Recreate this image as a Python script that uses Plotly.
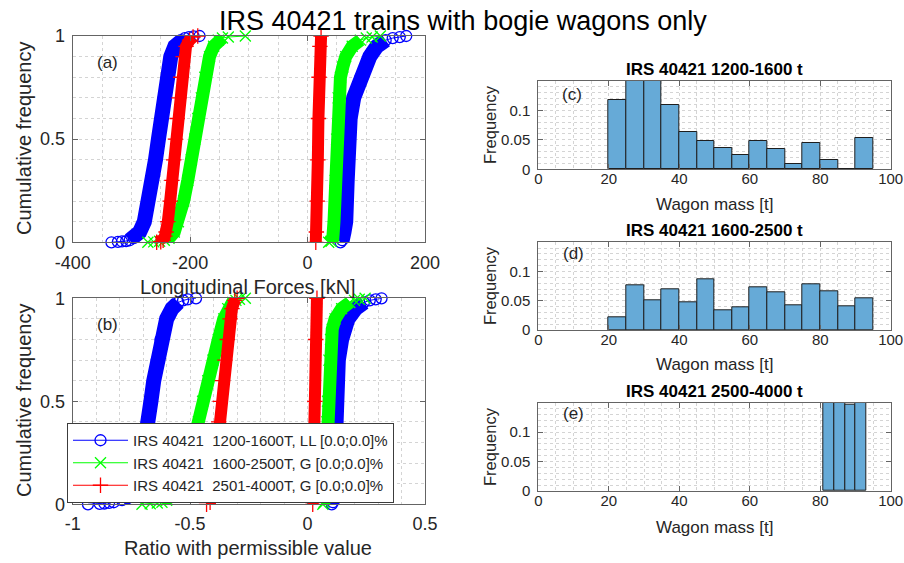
import numpy as np
import plotly.graph_objects as go

W, H = 904, 563

# ---------------- cumulative frequency curves ----------------
# (a) longitudinal forces [kN]; each train class has a compressive and a tensile branch
a_blue_neg_cf = [0, 0.002, 0.004, 0.006, 0.01, 0.02, 0.05, 0.1, 0.2, 0.3, 0.4, 0.5, 0.6, 0.7, 0.8, 0.9, 0.95, 0.98, 0.99, 0.995, 0.998, 1.0]
a_blue_neg_x = [-334, -323, -316, -309, -303, -296, -286, -278, -270, -264, -259, -254, -249, -245, -240, -233, -226, -216, -209, -202, -194, -184]
a_blue_pos_cf = [0, 0.01, 0.05, 0.1, 0.3, 0.5, 0.6, 0.7, 0.8, 0.9, 0.95, 0.98, 0.99, 0.995, 1.0]
a_blue_pos_x = [56, 59, 62, 65, 67.5, 69.5, 72.5, 78.5, 90, 106, 118, 133, 145, 157, 168]

a_green_neg_cf = [0, 0.002, 0.005, 0.01, 0.02, 0.05, 0.1, 0.2, 0.3, 0.4, 0.5, 0.6, 0.7, 0.8, 0.9, 0.95, 0.98, 0.99, 0.995, 1.0]
a_green_neg_x = [-272, -262, -252, -244, -236, -227, -220, -211, -204, -198, -192, -187, -181, -175, -167, -160, -152, -145, -135, -106]
a_green_pos_cf = [0, 0.005, 0.02, 0.1, 0.3, 0.5, 0.7, 0.8, 0.85, 0.9, 0.95, 0.98, 0.99, 0.995, 1.0]
a_green_pos_x = [36, 40, 43, 45, 47, 49.5, 52, 56, 60, 65, 76, 90, 100, 110, 124]

a_red_neg_cf = [0, 0.003, 0.01, 0.03, 0.05, 0.1, 0.2, 0.3, 0.4, 0.5, 0.6, 0.7, 0.8, 0.9, 0.95, 0.98, 0.995, 1.0]
a_red_neg_x = [-257, -250, -246, -243, -241, -238, -234, -231, -228, -225, -222, -219, -216, -212, -207, -201, -195, -187]
a_red_pos_cf = [0, 0.05, 0.2, 0.4, 0.6, 0.8, 0.95, 1.0]
a_red_pos_x = [14, 15, 16.5, 17.5, 18.5, 19.5, 21, 23]

# (b) ratio with permissible value
b_blue_neg_cf = [0, 0.002, 0.004, 0.007, 0.01, 0.02, 0.05, 0.1, 0.2, 0.3, 0.4, 0.5, 0.6, 0.7, 0.8, 0.9, 0.95, 0.98, 0.99, 0.995, 1.0]
b_blue_neg_x = [-0.935, -0.885, -0.865, -0.845, -0.825, -0.79, -0.75, -0.72, -0.703, -0.69, -0.678, -0.667, -0.655, -0.642, -0.626, -0.6, -0.577, -0.55, -0.53, -0.51, -0.475]
b_blue_pos_cf = [0, 0.01, 0.05, 0.1, 0.4, 0.5, 0.7, 0.8, 0.85, 0.9, 0.95, 0.98, 0.99, 0.995, 1.0]
b_blue_pos_x = [0.103, 0.108, 0.11, 0.112, 0.117, 0.12, 0.131, 0.145, 0.156, 0.172, 0.205, 0.24, 0.265, 0.29, 0.315]

b_green_neg_cf = [0, 0.003, 0.006, 0.01, 0.02, 0.05, 0.1, 0.2, 0.3, 0.4, 0.5, 0.6, 0.7, 0.8, 0.9, 0.95, 0.98, 0.99, 0.995, 1.0]
b_green_neg_x = [-0.705, -0.67, -0.64, -0.62, -0.6, -0.565, -0.54, -0.51, -0.485, -0.465, -0.447, -0.425, -0.403, -0.38, -0.357, -0.34, -0.32, -0.305, -0.29, -0.265]
b_green_pos_cf = [0, 0.01, 0.05, 0.2, 0.4, 0.5, 0.7, 0.8, 0.85, 0.9, 0.95, 0.98, 0.99, 0.995, 1.0]
b_green_pos_x = [0.065, 0.07, 0.074, 0.078, 0.082, 0.085, 0.091, 0.098, 0.105, 0.117, 0.145, 0.18, 0.2, 0.22, 0.245]

b_red_neg_cf = [0, 0.01, 0.05, 0.2, 0.4, 0.5, 0.6, 0.7, 0.8, 0.9, 0.95, 0.99, 1.0]
b_red_neg_x = [-0.43, -0.415, -0.405, -0.39, -0.378, -0.372, -0.362, -0.352, -0.342, -0.33, -0.322, -0.31, -0.30]
b_red_pos_cf = [0, 0.2, 0.5, 0.8, 1.0]
b_red_pos_x = [0.022, 0.027, 0.031, 0.035, 0.040]

series_names = [
    "IRS 40421  1200-1600T, LL [0.0;0.0]%",
    "IRS 40421  1600-2500T, G [0.0;0.0]%",
    "IRS 40421  2501-4000T, G [0.0;0.0]%",
]

# ---------------- wagon mass histograms ----------------
c_edges = [20, 25, 30, 35, 40, 45, 50, 55, 60, 65, 70, 75, 80, 85, 90, 95]
c_freq = [0.117, 0.20, 0.195, 0.110, 0.063, 0.048, 0.036, 0.025, 0.048, 0.034, 0.009, 0.044, 0.015, 0.0, 0.053]
d_edges = [20, 25, 30, 35, 40, 45, 50, 55, 60, 65, 70, 75, 80, 85, 90, 95]
d_freq = [0.021, 0.077, 0.050, 0.069, 0.047, 0.087, 0.033, 0.039, 0.073, 0.065, 0.042, 0.079, 0.066, 0.041, 0.055]
e_edges = [81, 84, 87, 90, 93]
e_freq = [0.28, 0.27, 0.147, 0.30]

hist_titles = ["IRS 40421 1200-1600 t", "IRS 40421 1600-2500 t", "IRS 40421 2500-4000 t"]

# ---------------- styling ----------------
FONT = "Liberation Sans, Arial, sans-serif"
TXT = "rgb(38,38,38)"
FRAME = "rgb(100,100,100)"
GRID = "rgb(212,212,212)"
BLUE, GREEN, RED = "rgb(0,0,255)", "rgb(0,255,0)", "rgb(255,0,0)"
BAND_WIDTH = {BLUE: 15, GREEN: 13, RED: 12}
BAR_FILL = "rgb(102,170,215)"
MSIZE = 11


def px_x(x):
    return x / W


def px_y(y):
    return 1 - y / H


fig = go.Figure()


def add_curve(xs, cfs, color, symbol, axis, band=(0.01, 0.99), name=None, legend=False):
    """Cumulative curve: markers at every point, solid band over the dense body."""
    xa, ya = axis
    xs = np.asarray(xs, dtype=float)
    cfs = np.asarray(cfs, dtype=float)
    core = (cfs >= band[0]) & (cfs <= band[1])
    fig.add_trace(go.Scatter(
        x=xs[core], y=cfs[core], mode="lines",
        line=dict(color=color, width=BAND_WIDTH[color]),
        xaxis=xa, yaxis=ya, showlegend=False, hoverinfo="skip", cliponaxis=False,
    ))
    fig.add_trace(go.Scatter(
        x=xs, y=cfs, mode="lines+markers", name=name,
        line=dict(color=color, width=1),
        marker=dict(symbol=symbol, size=MSIZE, color=color, line=dict(color=color, width=1.3)),
        xaxis=xa, yaxis=ya, showlegend=legend, cliponaxis=False,
    ))


FULL = (0.0, 1.0)

# panel (a)
add_curve(a_blue_neg_x, a_blue_neg_cf, BLUE, "circle-open", ("x", "y"), name=series_names[0], legend=True)
add_curve(a_blue_pos_x, a_blue_pos_cf, BLUE, "circle-open", ("x", "y"), band=(0.0, 0.98))
add_curve(a_green_neg_x, a_green_neg_cf, GREEN, "x-thin-open", ("x", "y"), name=series_names[1], legend=True)
add_curve(a_green_pos_x, a_green_pos_cf, GREEN, "x-thin-open", ("x", "y"), band=(0.0, 0.98))
add_curve(a_red_neg_x, a_red_neg_cf, RED, "cross-thin-open", ("x", "y"), band=(0.0, 0.995), name=series_names[2], legend=True)
add_curve(a_red_pos_x, a_red_pos_cf, RED, "cross-thin-open", ("x", "y"), band=FULL)

# panel (b)
add_curve(b_blue_neg_x, b_blue_neg_cf, BLUE, "circle-open", ("x2", "y2"), band=(0.02, 0.98))
add_curve(b_blue_pos_x, b_blue_pos_cf, BLUE, "circle-open", ("x2", "y2"), band=(0.0, 0.98))
add_curve(b_green_neg_x, b_green_neg_cf, GREEN, "x-thin-open", ("x2", "y2"), band=(0.01, 0.99))
add_curve(b_green_pos_x, b_green_pos_cf, GREEN, "x-thin-open", ("x2", "y2"), band=(0.0, 0.98))
add_curve(b_red_neg_x, b_red_neg_cf, RED, "cross-thin-open", ("x2", "y2"), band=FULL)
add_curve(b_red_pos_x, b_red_pos_cf, RED, "cross-thin-open", ("x2", "y2"), band=FULL)


def add_hist(edges, freq, axis):
    xa, ya = axis
    edges = np.asarray(edges, dtype=float)
    centers = (edges[:-1] + edges[1:]) / 2
    widths = np.diff(edges)
    fig.add_trace(go.Bar(
        x=centers, y=freq, width=widths,
        marker=dict(color=BAR_FILL, line=dict(color="rgb(30,30,30)", width=1)),
        xaxis=xa, yaxis=ya, showlegend=False,
    ))


add_hist(c_edges, c_freq, ("x3", "y3"))
add_hist(d_edges, d_freq, ("x4", "y4"))
add_hist(e_edges, e_freq, ("x5", "y5"))


def axis_style(rng, tickvals, ticktext, minor_dtick, domain, size, anchor, standoff):
    return dict(
        range=rng, domain=domain, anchor=anchor, automargin=False,
        tickmode="array", tickvals=tickvals, ticktext=ticktext,
        ticks="inside", ticklen=5, tickwidth=1, tickcolor=FRAME,
        showline=True, linecolor=FRAME, linewidth=1, mirror="ticks",
        showgrid=True, gridcolor=GRID, gridwidth=1, griddash="dot",
        minor=dict(dtick=minor_dtick, tick0=0, showgrid=True, gridcolor=GRID, griddash="dot", gridwidth=1, ticks=""),
        zeroline=False, tickfont=dict(family=FONT, size=size, color=TXT),
        ticklabelstandoff=standoff, fixedrange=True,
    )


left_x = [72.7 / W, 425 / W]
right_x = [538.3 / W, 890.7 / W]

dom_a = [px_y(242.3), px_y(36)]
dom_b = [px_y(504.3), px_y(298.3)]
dom_c = [px_y(169.3), px_y(81)]
dom_d = [px_y(330), px_y(242.3)]
dom_e = [px_y(491), px_y(402.7)]

hist_ticks = [0, 20, 40, 60, 80, 100]
hist_ticktext = [str(v) for v in hist_ticks]
freq_ticks = [0, 0.05, 0.1]
freq_ticktext = ["0", "0.05", "0.1"]

fig.update_layout(
    width=W, height=H, margin=dict(l=0, r=0, t=0, b=0, pad=0, autoexpand=False),
    paper_bgcolor="white", plot_bgcolor="white",
    font=dict(family=FONT, color=TXT),
    bargap=0,
    xaxis=axis_style([-400, 200], [-400, -200, 0, 200], ["-400", "-200", "0", "200"], 50, left_x, 18, "y", 4),
    yaxis=axis_style([0, 1], [0, 0.5, 1], ["0", "0.5", "1"], 0.1, dom_a, 18, "x", 3),
    xaxis2=axis_style([-1, 0.5], [-1, -0.5, 0, 0.5], ["-1", "-0.5", "0", "0.5"], 0.1, left_x, 18, "y2", 3),
    yaxis2=axis_style([0, 1], [0, 0.5, 1], ["0", "0.5", "1"], 0.1, dom_b, 18, "x2", 3),
    xaxis3=axis_style([0, 100], hist_ticks, hist_ticktext, 5, right_x, 15, "y3", -4),
    yaxis3=axis_style([0, 0.15], freq_ticks, freq_ticktext, 0.01, dom_c, 15, "x3", 4),
    xaxis4=axis_style([0, 100], hist_ticks, hist_ticktext, 5, right_x, 15, "y4", -4),
    yaxis4=axis_style([0, 0.15], freq_ticks, freq_ticktext, 0.01, dom_d, 15, "x4", 4),
    xaxis5=axis_style([0, 100], hist_ticks, hist_ticktext, 5, right_x, 15, "y5", -4),
    yaxis5=axis_style([0, 0.15], freq_ticks, freq_ticktext, 0.01, dom_e, 15, "x5", 4),
    legend=dict(
        x=px_x(67), y=px_y(423), xanchor="left", yanchor="top",
        bgcolor="white", bordercolor="rgb(60,60,60)", borderwidth=1,
        font=dict(family=FONT, size=15, color=TXT),
        itemwidth=55, tracegroupgap=0,
    ),
)


def note(text, x, y, size, color=TXT, angle=0, bold=False):
    fig.add_annotation(
        text=f"<b>{text}</b>" if bold else text,
        x=px_x(x), y=px_y(y), xref="paper", yref="paper",
        xanchor="center", yanchor="middle", showarrow=False, textangle=angle,
        font=dict(family=FONT, size=size, color=color),
    )


note("IRS 40421 trains with bogie wagons only", 463, 21, 27, color="black")

note("(a)", 107, 62, 17)
note("(b)", 107, 324, 17)
note("(c)", 572, 94, 17)
note("(d)", 573, 253, 17)
note("(e)", 573, 413, 17)

note("Cumulative frequency", 24, 139, 20, angle=-90)
note("Cumulative frequency", 24, 401, 20, angle=-90)
note("Longitudinal Forces [kN]", 248, 287, 20)
note("Ratio with permissible value", 248, 548, 20)

for t, yy in zip(hist_titles, [70, 230, 391]):
    note(t, 714.5, yy, 17, color="black", bold=True)
for yy in [204, 364, 527]:
    note("Wagon mass [t]", 714.5, yy, 17)
for yy in [125, 286, 447]:
    note("Frequency", 490, yy, 16.5, angle=-90)

fig.write_html("out.html")
